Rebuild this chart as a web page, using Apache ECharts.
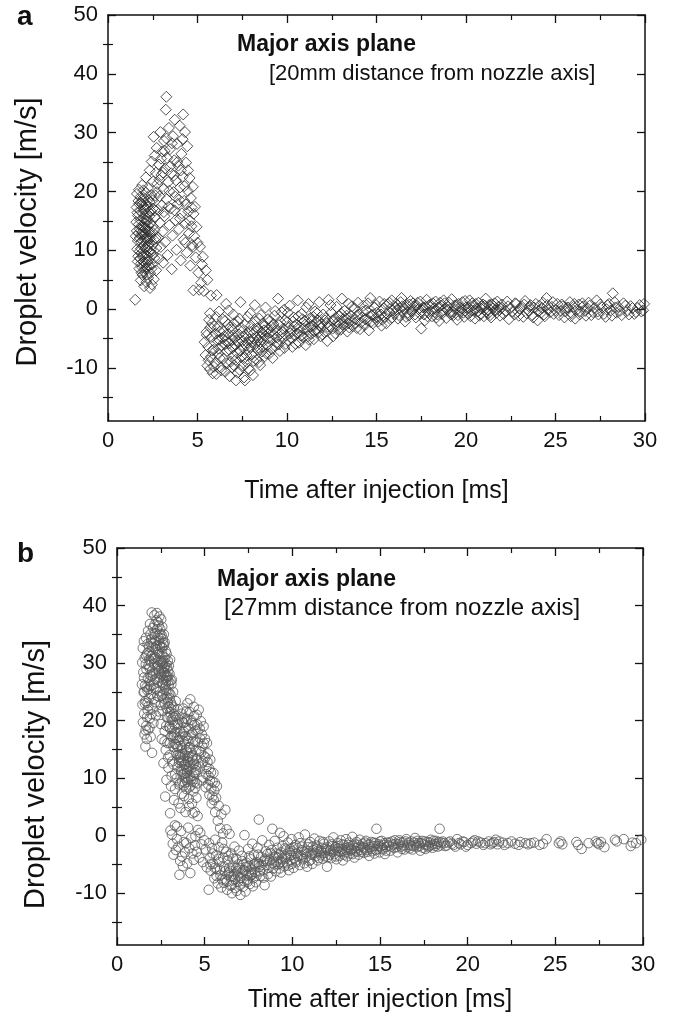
<!DOCTYPE html>
<html>
<head>
<meta charset="utf-8">
<script src="https://cdn.jsdelivr.net/npm/echarts@6/dist/echarts.min.js"></script>
<style>
html,body{margin:0;padding:0;background:#fff;}
#chart{width:673px;height:1014px;}
</style>
</head>
<body>
<div id="chart"></div>
<script>
// ---------- tick labels ----------
const xTicks = [0, 5, 10, 15, 20, 25, 30];
const yMajorTicks = [-10, 0, 10, 20, 30, 40, 50];
const yMinorTicks = [-15, -5, 5, 15, 25, 35, 45];

// ---------- panel (a): 20 mm, diamonds ----------
const aEarly = [[1.52,1.6],[1.55,12.4],[1.58,14.8],[1.6,17.3],[1.62,19.6],[1.63,10.2],[1.66,8.1],[1.68,15.9],[1.7,18.4],[1.71,12.9],[1.73,20.3],[1.75,6.9],[1.76,9.8],[1.78,13.6],[1.8,16.7],[1.81,19.1],[1.83,4.9],[1.85,7.8],[1.86,11.4],[1.88,14.2],[1.9,17.8],[1.91,21.1],[1.93,5.8],[1.94,8.9],[1.96,10.7],[1.97,12.8],[1.99,15.3],[2.0,18.9],[2.02,3.9],[2.03,6.4],[2.05,9.3],[2.06,11.9],[2.08,13.7],[2.09,16.1],[2.11,19.8],[2.12,22.4],[2.14,4.6],[2.15,7.2],[2.17,10.1],[2.18,12.3],[2.2,14.9],[2.21,17.4],[2.23,20.6],[2.24,5.3],[2.26,8.4],[2.27,11.1],[2.29,13.2],[2.3,15.8],[2.32,18.2],[2.33,23.6],[2.35,3.6],[2.36,6.1],[2.38,9.6],[2.39,12.6],[2.41,16.6],[2.42,19.4],[2.44,25.1],[2.45,4.2],[2.47,7.6],[2.48,10.9],[2.5,14.1],[2.51,17.1],[2.53,21.7],[2.55,29.3],[2.56,5.1],[2.58,8.7],[2.6,13.4],[2.61,26.1],[2.63,15.6],[2.65,19.3],[2.67,23.2],[2.69,6.6],[2.7,10.4],[1.84,10.3],[1.92,13.1],[1.95,16.2],[2.01,8.1],[2.04,14.6],[2.07,17.2],[2.1,6.9],[2.13,12.1],[2.16,15.4],[2.19,9.1],[2.22,11.7],[2.25,18.6],[1.87,6.2],[1.98,20.2],[2.28,7.4]];
const aCore = [[1.61,13.3],[1.64,16.4],[1.67,11.6],[1.69,9.0],[1.72,14.4],[1.74,17.9],[1.77,12.1],[1.79,8.6],[1.82,15.1],[1.84,18.1],[1.87,12.7],[1.89,9.6],[1.92,7.1],[1.94,14.0],[1.96,18.3],[1.99,11.5],[2.01,13.9],[2.03,16.9],[2.06,7.9],[2.08,10.4],[2.1,12.9],[2.12,15.0],[2.14,17.9],[2.17,5.9],[2.19,13.6],[2.21,8.0],[2.23,10.7],[2.26,14.2],[2.28,16.5],[2.31,9.9],[2.34,12.0],[2.37,14.7],[2.4,10.2],[2.43,6.9],[2.46,13.1],[2.49,18.5],[2.52,9.3],[2.57,11.8],[2.62,16.8],[2.66,12.1]];
const aPeak = [[2.72,27.4],[2.75,21.3],[2.78,16.9],[2.8,12.2],[2.83,8.6],[2.85,24.6],[2.88,19.2],[2.9,14.7],[2.93,30.1],[2.95,10.6],[2.98,22.8],[3.0,17.6],[3.03,26.8],[3.05,13.2],[3.08,7.9],[3.1,20.4],[3.13,28.6],[3.15,15.8],[3.18,23.9],[3.2,11.4],[3.23,33.9],[3.26,36.1],[3.28,18.7],[3.3,25.7],[3.33,9.2],[3.36,21.6],[3.4,30.8],[3.43,14.3],[3.46,27.2],[3.5,17.1],[3.53,23.1],[3.56,6.8],[3.6,12.5],[3.63,29.4],[3.66,19.9],[3.7,25.3],[3.73,32.2],[3.76,15.1],[3.8,21.9],[3.83,10.1],[3.86,28.1],[3.9,17.9],[3.93,24.4],[3.96,13.6],[4.0,31.2],[4.03,20.7],[4.06,8.3],[4.1,26.4],[4.13,16.3],[4.16,22.5],[4.2,33.1],[4.23,11.8],[4.26,18.4],[4.3,30.1],[4.33,14.6],[4.36,24.9],[4.4,9.6],[4.43,27.7],[4.46,20.1],[4.5,16.6],[4.53,12.9],[4.56,22.3],[4.6,7.4],[4.63,18.9],[4.66,14.1],[4.7,10.9],[4.74,20.8],[4.78,16.2],[4.82,12.4],[4.86,17.4],[4.9,8.8],[4.95,14.0],[2.74,19.9],[2.87,22.0],[2.97,25.6],[3.07,23.2],[3.17,26.9],[3.27,29.0],[3.37,17.4],[3.47,24.3],[3.57,28.2],[3.67,22.7],[3.77,19.1],[3.87,25.0],[3.97,18.6],[4.07,23.6],[4.17,28.9],[4.27,20.9],[4.37,17.8],[4.47,23.6],[4.57,15.1],[4.67,17.3],[3.12,16.5],[3.42,20.1],[3.72,16.8],[4.02,15.4],[4.32,11.3]];
const aTransition = [[4.75,10.6],[4.77,3.2],[5.0,11.3],[5.05,6.2],[5.1,3.3],[5.14,10.6],[5.2,4.5],[5.25,7.6],[5.3,8.9],[5.35,3.1],[5.47,6.6],[5.55,5.0],[5.75,2.3],[6.07,2.4],[5.7,-0.7],[5.8,-2.4]];
const aTrough = [[5.4,-5.6],[5.45,-7.8],[5.5,-3.9],[5.55,-9.6],[5.6,-6.4],[5.65,-1.8],[5.7,-10.2],[5.75,-8.1],[5.8,-4.7],[5.85,-10.9],[5.9,-6.9],[5.95,-2.9],[6.0,-9.1],[6.05,-11.0],[6.1,-5.3],[6.15,-7.6],[6.2,-0.4],[6.25,-3.8],[6.3,-9.9],[6.35,-6.1],[6.4,-1.7],[6.45,-8.4],[6.5,-4.6],[6.55,-10.6],[6.6,0.9],[6.65,-7.1],[6.7,-2.6],[6.75,-5.8],[6.8,-11.4],[6.85,-8.9],[6.9,-3.4],[6.95,-6.6],[7.0,-0.9],[7.05,-9.6],[7.1,-4.9],[7.15,-12.1],[7.2,-7.4],[7.25,-2.1],[7.3,-5.6],[7.35,-10.3],[7.4,1.2],[7.45,-8.1],[7.5,-3.7],[7.55,-6.3],[7.6,-11.6],[7.65,-12.1],[7.7,-4.4],[7.75,-9.0],[7.8,-1.3],[7.85,-6.9],[7.9,-5.1],[7.95,-10.4],[8.0,-2.8],[8.05,-7.7],[8.1,-11.2],[8.15,-4.0],[8.2,0.7],[8.25,-5.9],[8.3,-8.6],[8.35,-3.2],[8.4,-6.5],[8.45,-1.6],[8.5,-9.5],[8.55,-4.6],[8.6,-7.2],[8.65,-2.4],[8.7,-5.4],[8.75,-8.0],[8.8,0.3],[8.85,-3.8],[8.9,-6.1],[8.95,-4.9],[9.0,-7.6],[9.05,-2.0],[9.1,-5.2],[9.15,-3.0],[9.2,-8.3],[9.25,-4.3],[9.3,-1.1],[9.35,-6.3],[9.4,-3.6],[9.45,-5.6],[9.5,1.8],[9.55,-2.7],[9.6,-7.1],[9.65,-4.1],[9.7,-0.5],[9.75,-5.0],[9.8,-3.3],[9.85,-6.6],[9.9,-1.9],[9.95,-4.5],[6.52,-6.0],[6.72,-4.2],[6.92,-5.2],[7.12,-6.1],[7.32,-4.3],[7.52,-5.4],[7.72,-6.2],[7.92,-3.9],[8.12,-5.0],[8.32,-4.8],[8.52,-5.6],[8.72,-3.6],[6.22,-5.2],[6.02,-4.2],[7.02,-7.9],[7.62,-8.3],[5.52,-4.4],[5.62,-8.7],[5.72,-3.1],[5.82,-7.0],[5.92,-9.8],[6.04,-1.3],[6.14,-3.0],[6.24,-8.3],[6.34,-10.4],[6.44,-3.7],[6.54,-2.0],[6.64,-9.2],[6.74,-0.2],[6.84,-3.1],[6.94,-9.9],[7.04,-2.4],[7.14,-8.6],[7.24,-10.8],[7.34,-1.6],[7.44,-3.2],[7.54,-9.6],[7.64,-2.6],[7.74,-7.8],[7.84,-10.1],[7.94,-0.7],[8.04,-5.6],[8.14,-8.8],[8.24,-2.1],[8.34,-6.9],[8.44,-9.0],[8.54,-1.0],[8.64,-6.4],[8.74,-2.9],[8.84,-7.5],[8.94,-1.7],[9.04,-4.0],[9.14,-6.8],[9.24,-2.5],[9.34,-0.3],[9.44,-4.8],[9.54,-6.0],[9.64,-2.2],[9.74,-3.9],[9.84,-0.1],[9.94,-5.9],[6.18,-6.7],[6.38,-4.9],[6.58,-5.4],[6.78,-6.9],[6.98,-4.4],[7.18,-5.3],[7.38,-7.0],[7.58,-4.6],[7.78,-5.7],[7.98,-6.4],[8.18,-3.4],[8.38,-5.3],[8.58,-3.9],[8.78,-4.6],[8.98,-3.3]];
const aRecovery = [[10.0,-2.2],[10.08,-5.3],[10.15,0.6],[10.22,-3.7],[10.3,-6.4],[10.37,-1.4],[10.45,-4.4],[10.52,-2.6],[10.6,1.5],[10.67,-5.7],[10.75,-3.1],[10.82,-0.8],[10.9,-4.8],[10.97,-2.0],[11.05,-6.1],[11.12,-3.4],[11.2,0.9],[11.27,-1.6],[11.35,-4.2],[11.42,-2.8],[11.5,-5.1],[11.57,-0.4],[11.65,-3.6],[11.72,-1.9],[11.8,1.2],[11.87,-4.6],[11.95,-2.5],[12.02,-0.9],[12.1,-3.9],[12.17,-1.5],[12.25,-5.4],[12.32,1.6],[12.4,-2.9],[12.47,-0.6],[12.55,-3.3],[12.62,-1.8],[12.7,-4.1],[12.77,0.4],[12.85,-2.2],[12.92,-1.1],[13.0,-3.5],[13.07,1.8],[13.15,-2.6],[13.22,-0.3],[13.3,-1.6],[13.37,-3.8],[13.45,0.9],[13.52,-2.0],[13.6,-1.2],[13.67,-2.9],[13.75,0.2],[13.82,-1.7],[13.9,-3.2],[13.97,1.1],[14.05,-0.9],[14.12,-2.3],[14.2,-1.4],[14.27,0.6],[14.35,-2.7],[14.42,-0.2],[14.5,-1.9],[14.57,-3.6],[14.65,1.9],[14.72,-1.0],[14.8,-2.4],[14.87,0.3],[14.95,-1.5],[15.02,-0.6],[15.1,-2.1],[15.17,1.3],[15.25,-0.9],[15.32,-1.8],[15.4,0.1],[15.47,-1.3],[15.55,-2.4],[15.62,0.8],[15.7,-0.5],[15.77,-1.7],[15.85,1.5],[15.92,-0.2],[10.12,-3.0],[10.42,-2.9],[10.72,-3.9],[11.02,-2.6],[11.32,-3.0],[11.62,-2.2],[11.92,-3.1],[12.22,-2.4],[12.52,-2.0],[12.82,-2.8],[13.12,-1.8],[13.42,-2.4],[10.27,-4.9],[10.57,-4.1],[10.87,-1.7],[11.17,-4.6],[11.47,-1.3],[11.77,-3.9],[10.05,-0.6],[10.18,-4.1],[10.33,-2.1],[10.48,-5.9],[10.63,-1.2],[10.78,-4.5],[10.93,-3.3],[11.08,0.3],[11.23,-5.2],[11.38,-2.0],[11.53,-3.7],[11.68,-0.7],[11.83,-2.7],[11.98,-4.3],[12.13,-1.9],[12.28,-3.0],[12.43,0.7],[12.58,-4.6],[12.73,-1.4],[12.88,-3.4],[13.03,-0.8],[13.18,-2.9],[13.33,-1.1],[13.48,-3.1],[13.63,0.5],[13.78,-2.4],[13.93,-1.0],[14.08,-3.4],[14.23,-0.4],[14.38,-1.7],[14.53,1.0],[14.68,-2.2],[14.83,-0.9],[14.98,0.7],[15.13,-1.2],[15.28,-2.8],[15.43,0.9],[15.58,-0.8],[15.73,1.1],[15.88,-1.4]];
const aTail = [[16.0,-0.8],[16.1,0.9],[16.2,-1.6],[16.3,0.2],[16.4,1.9],[16.5,-0.4],[16.6,-2.1],[16.7,0.7],[16.8,-1.1],[16.9,1.4],[17.0,-0.2],[17.1,0.5],[17.2,-1.4],[17.3,1.1],[17.4,-0.7],[17.5,-3.3],[17.6,0.3],[17.7,-1.9],[17.8,1.6],[17.9,-0.5],[18.0,0.8],[18.1,-1.2],[18.2,0.1],[18.3,1.3],[18.4,-0.9],[18.5,-2.0],[18.6,0.6],[18.7,-0.3],[18.8,1.0],[18.9,-1.5],[19.0,0.4],[19.1,-0.6],[19.2,1.7],[19.3,-1.0],[19.4,0.0],[19.5,-1.8],[19.6,0.9],[19.7,-0.4],[19.8,1.2],[19.9,-1.3],[20.0,0.3],[20.1,-0.7],[20.2,1.5],[20.3,-0.2],[20.4,0.6],[20.5,-1.6],[20.6,0.2],[20.7,1.1],[20.8,-0.8],[20.9,0.5],[21.0,-1.2],[21.1,1.8],[21.2,-0.1],[21.3,0.7],[21.4,-1.4],[21.5,0.1],[21.6,1.0],[21.7,-0.6],[21.8,0.4],[21.9,-1.1],[22.0,0.8],[22.2,-0.3],[22.3,1.3],[22.4,-1.7],[22.5,0.2],[22.7,-0.9],[22.8,0.9],[22.9,-0.4],[23.1,0.5],[23.2,-1.3],[23.3,1.4],[23.5,-0.2],[23.6,0.7],[23.7,-1.0],[23.8,0.3],[24.0,-1.9],[24.1,0.6],[24.2,-0.6],[24.3,1.1],[24.4,-1.2],[24.5,1.9],[24.6,-0.1],[24.8,0.4],[24.9,-0.8],[25.1,0.9],[25.3,-0.3],[25.4,0.5],[25.5,-1.4],[25.6,0.2],[25.8,1.2],[25.9,-0.7],[26.0,0.4],[26.1,-1.6],[26.3,0.8],[26.4,-0.4],[26.5,1.0],[26.7,-1.1],[26.8,0.1],[26.9,0.6],[27.1,-0.5],[27.3,1.5],[27.4,-0.9],[27.6,0.3],[27.8,-1.3],[27.9,0.7],[28.1,-0.2],[28.2,2.7],[28.3,1.2],[28.4,-0.6],[28.5,0.4],[28.7,-1.0],[28.8,1.0],[29.0,-0.3],[29.2,0.5],[29.4,-0.8],[29.6,0.2],[29.8,-0.4],[29.95,0.9],[16.15,-0.1],[16.45,0.5],[16.75,-0.6],[17.05,1.0],[17.35,0.0],[17.65,-0.9],[17.95,0.6],[18.25,-0.5],[18.55,1.1],[18.85,0.2],[19.15,-0.9],[19.45,0.7],[19.75,0.1],[20.05,-0.5],[20.35,1.0],[20.65,-0.4],[20.95,0.8],[21.25,-0.7],[21.55,0.5],[21.85,-0.2],[16.05,0.4],[16.25,-1.0],[16.35,1.2],[16.55,0.1],[16.65,-1.3],[16.85,0.8],[16.95,-0.4],[17.15,-0.9],[17.25,0.6],[17.45,1.3],[17.55,-0.2],[17.75,0.4],[17.85,-1.2],[18.05,-0.3],[18.15,1.0],[18.35,-1.4],[18.45,0.3],[18.65,-0.8],[18.75,1.5],[18.95,-0.1],[19.05,1.1],[19.25,-0.4],[19.35,0.6],[19.55,-1.0],[19.65,0.3],[19.85,-0.6],[19.95,1.4],[20.15,0.2],[20.25,-1.2],[20.45,-0.3],[20.55,0.9],[20.75,-1.1],[20.85,0.1],[21.05,0.6],[21.15,-0.5],[21.35,-1.0],[21.45,0.8],[21.65,-0.2],[21.75,1.3],[21.95,0.2],[22.1,-0.8],[22.35,0.5],[22.6,-0.4],[22.75,1.0],[22.95,-1.1],[23.0,0.1],[23.25,0.8],[23.4,-0.7],[23.55,0.4],[23.75,-1.4],[23.9,0.9],[24.05,-0.3],[24.25,0.2],[24.35,-0.9],[24.55,0.7],[24.7,-0.5],[24.85,1.2],[25.0,-0.2],[25.2,-1.0],[25.35,0.8],[25.55,-0.4],[25.7,0.3],[25.85,-1.2],[26.05,0.9],[26.2,-0.1],[26.35,-0.9],[26.55,0.5],[26.65,-0.3],[26.85,1.1],[27.0,-1.0],[27.2,0.2],[27.35,-0.4],[27.5,0.8],[27.7,-0.8],[27.85,0.0],[28.0,0.9],[28.15,-1.1],[28.35,0.3],[28.6,-0.3],[28.9,0.6],[29.1,-0.9],[29.3,0.2],[29.5,-0.5],[29.7,0.7],[29.9,-0.2]];

// ---------- panel (b): 27 mm, circles ----------
const bPeak = [[1.42,26.3],[1.44,30.1],[1.45,22.8],[1.47,32.6],[1.48,19.7],[1.5,28.4],[1.52,24.9],[1.53,33.8],[1.55,21.2],[1.57,17.6],[1.58,30.9],[1.6,26.1],[1.62,15.5],[1.63,23.4],[1.65,34.4],[1.67,19.1],[1.68,28.9],[1.7,16.8],[1.72,31.7],[1.73,25.3],[1.75,21.8],[1.77,35.6],[1.78,18.4],[1.8,29.6],[1.82,23.9],[1.83,32.9],[1.85,26.8],[1.87,20.4],[1.88,36.8],[1.9,30.3],[1.92,17.2],[1.93,24.6],[1.95,34.1],[1.97,27.7],[1.98,38.8],[2.0,14.4],[2.02,31.4],[2.03,22.1],[2.05,36.1],[2.07,28.1],[2.08,19.6],[2.1,33.4],[2.12,25.7],[2.13,38.3],[2.15,30.7],[2.17,23.2],[2.18,35.2],[2.2,27.3],[2.22,20.9],[2.23,32.4],[2.25,37.4],[2.27,38.7],[2.28,29.4],[2.3,24.3],[2.32,34.7],[2.33,26.6],[2.35,31.9],[2.37,36.5],[2.38,21.6],[2.4,28.6],[2.42,38.1],[2.43,33.2],[2.45,25.1],[2.47,35.9],[2.48,30.2],[2.5,22.7],[2.52,37.6],[2.53,27.9],[2.55,32.8],[2.57,24.4],[2.58,36.3],[2.6,29.8],[2.62,34.2],[2.63,26.2],[2.65,31.1],[2.67,35.0],[2.7,28.3],[2.72,33.6],[2.75,30.9],[2.78,32.1],[2.8,27.4],[2.83,31.6],[2.86,29.2],[2.9,30.4],[2.93,26.9],[2.96,29.5],[3.0,28.1],[3.03,30.6],[3.06,27.0],[3.1,26.3],[3.13,27.1],[1.86,29.1],[1.94,31.2],[2.01,28.7],[2.06,30.8],[2.11,29.9],[2.16,32.6],[2.21,31.0],[2.26,33.0],[2.31,30.6],[2.36,28.9],[2.41,31.6],[2.46,32.9],[2.51,30.4],[2.56,31.8],[2.61,28.6],[1.76,27.4],[1.81,32.0],[1.91,26.0],[1.54,27.5],[1.59,23.0],[1.64,29.8],[1.69,25.8],[1.74,33.3],[1.79,22.5],[1.84,30.6],[1.89,27.9],[1.96,33.6],[2.04,26.2],[2.09,35.0],[2.14,27.0],[2.19,33.9],[2.24,28.3],[2.29,35.9],[2.34,29.6],[2.39,33.9],[2.44,27.5],[2.49,34.4],[2.54,29.1],[2.59,32.7],[2.64,30.4],[2.68,33.1],[2.73,29.5],[2.77,27.9],[2.82,29.8],[2.87,27.6],[2.92,28.6],[1.56,25.0],[1.66,31.3],[1.71,20.6],[1.81,25.5],[1.91,35.0],[2.04,32.8],[2.14,36.7],[2.24,25.5],[2.34,37.1],[2.44,35.1],[2.54,34.9],[2.64,33.5],[1.63,18.3],[1.74,23.1],[1.86,18.8],[1.97,21.1],[2.09,23.8]];
const bStreak = [[2.42,24.1],[2.5,19.4],[2.55,16.8],[2.6,21.7],[2.65,12.6],[2.7,23.8],[2.72,18.2],[2.75,6.8],[2.78,14.9],[2.8,25.3],[2.82,9.7],[2.85,20.6],[2.88,16.1],[2.9,23.1],[2.93,11.8],[2.95,26.2],[2.98,18.9],[3.0,14.0],[3.02,21.4],[3.03,3.9],[3.05,24.5],[3.08,8.6],[3.1,17.3],[3.12,22.7],[3.15,12.9],[3.18,19.8],[3.2,25.0],[3.22,15.4],[3.25,6.2],[3.27,21.1],[3.3,17.9],[3.32,10.7],[3.35,23.4],[3.38,14.3],[3.4,19.3],[3.42,1.6],[3.45,12.0],[3.47,22.0],[3.5,16.6],[3.52,8.9],[3.55,20.2],[3.58,13.7],[3.6,18.1],[3.62,4.8],[3.65,11.3],[3.68,21.2],[3.7,15.2],[3.72,9.4],[3.75,17.7],[3.78,13.0],[3.8,19.6],[3.82,6.9],[3.85,10.8],[3.88,15.9],[3.9,12.4],[3.92,18.7],[3.95,8.1],[3.98,14.6],[4.0,11.2],[4.02,16.9],[4.05,9.9],[4.08,13.8],[4.1,6.4],[4.12,12.1],[4.15,15.3],[4.18,10.3],[4.2,8.7],[4.23,14.4],[4.25,11.7],[4.28,5.6],[4.3,9.5],[4.33,13.1],[4.36,7.7],[4.4,10.9],[4.43,4.1],[4.46,8.3],[4.5,12.2],[4.53,6.6],[4.56,9.1],[4.6,3.4],[2.61,30.0],[2.69,28.4],[2.81,27.0],[2.88,25.1],[3.01,23.9],[3.09,22.0],[3.21,20.6],[3.28,19.2],[3.41,17.0],[3.49,15.4],[3.61,14.1],[3.69,12.9],[3.81,11.6],[3.89,10.1],[4.01,9.4],[2.66,27.1],[2.74,25.8],[2.86,24.0],[2.94,22.4],[3.06,20.7],[3.14,18.6],[3.26,17.4],[3.34,15.9],[3.46,14.0],[3.54,12.7],[3.66,13.6],[3.74,10.6],[3.86,13.9],[3.94,11.9],[4.06,12.8],[2.58,26.6],[2.63,24.7],[2.68,29.2],[2.73,22.9],[2.78,26.4],[2.83,22.1],[2.88,27.8],[2.93,20.5],[2.98,24.8],[3.03,18.6],[3.08,23.1],[3.13,20.2],[3.18,17.1],[3.23,22.3],[3.28,16.0],[3.33,20.8],[3.38,18.0],[3.43,15.5],[3.48,19.4],[3.53,13.2],[3.58,17.2],[3.63,15.6],[3.68,11.1],[3.73,14.2],[3.78,16.4],[3.83,12.3],[3.88,9.2],[3.93,14.9],[3.98,10.9],[4.03,13.5],[4.08,11.6],[4.13,8.4],[4.18,12.7],[4.23,9.8],[4.28,13.6],[4.33,10.4],[4.38,12.5],[4.43,9.3],[4.48,11.0],[4.55,13.4],[2.71,16.4],[2.91,13.6],[3.11,10.4],[3.31,8.1],[3.51,5.6],[3.71,7.3],[3.91,4.1],[2.81,19.1],[3.01,16.1],[3.21,12.4],[3.41,10.0],[3.61,9.1],[3.81,8.7],[4.11,5.1],[4.31,3.9]];
const bBump = [[3.72,19.8],[3.78,22.1],[3.85,20.4],[3.9,17.3],[3.96,21.6],[4.02,23.0],[4.08,18.6],[4.12,15.4],[4.18,23.7],[4.22,20.1],[4.28,17.8],[4.32,13.9],[4.38,22.4],[4.42,19.2],[4.46,16.3],[4.5,11.4],[4.55,21.0],[4.6,18.1],[4.66,21.9],[4.7,14.7],[4.74,16.9],[4.78,19.9],[4.82,12.6],[4.86,15.6],[4.9,10.1],[4.94,19.0],[4.98,13.8],[5.02,16.8],[5.06,8.4],[5.1,11.9],[5.13,16.1],[5.18,14.3],[5.22,10.4],[5.27,7.1],[5.32,13.2],[5.36,11.0],[5.4,5.6],[5.45,9.4],[5.5,10.9],[5.55,7.8],[5.6,4.1],[5.65,6.6],[5.7,8.6],[5.75,2.6],[5.8,5.2],[5.88,1.3],[5.95,3.7],[6.05,0.4],[6.18,4.5],[6.25,1.1],[3.82,18.0],[3.92,19.8],[4.0,20.3],[4.06,16.5],[4.14,21.5],[4.2,17.5],[4.26,19.6],[4.34,16.4],[4.4,20.8],[4.48,18.3],[4.52,14.9],[4.58,19.3],[4.64,16.2],[4.72,18.6],[4.8,14.5],[4.84,17.6],[4.92,12.9],[4.96,16.0],[5.04,13.6],[5.08,10.7],[5.16,12.8],[5.2,8.9],[5.26,11.6],[5.3,9.6],[5.38,8.2],[5.44,6.8],[5.52,6.2],[5.58,9.2],[4.7,12.0],[4.86,9.6]];
const bLow = [[3.05,0.9],[3.13,0.2],[3.18,-1.4],[3.22,-3.3],[3.3,1.8],[3.36,-2.5],[3.42,-0.6],[3.5,-1.9],[3.56,-6.8],[3.6,-4.4],[3.66,0.8],[3.7,-3.6],[3.76,-5.3],[3.82,-1.1],[3.88,-2.9],[3.95,-1.3],[4.0,-4.8],[4.06,1.4],[4.12,-2.2],[4.18,-6.5],[4.24,-0.4],[4.3,-3.1],[4.37,-4.2],[4.44,-1.7],[4.47,-0.1],[4.55,-2.8],[4.62,1.0],[4.7,-3.8],[4.75,0.5],[4.82,-1.5],[4.9,-4.6],[4.98,-0.8],[5.05,-2.4],[5.12,-5.5],[5.23,-9.4]];
const bTrough = [[5.25,-1.3],[5.3,-3.9],[5.35,-6.1],[5.42,-2.2],[5.48,-4.9],[5.55,-7.4],[5.6,-0.7],[5.65,-3.4],[5.7,-5.8],[5.75,-8.3],[5.8,-2.0],[5.85,-4.6],[5.9,-6.9],[5.95,-9.0],[6.0,-1.2],[6.05,-3.8],[6.09,-8.2],[6.12,-5.5],[6.18,-7.6],[6.22,-2.8],[6.28,-9.4],[6.32,-4.3],[6.38,-6.4],[6.42,0.3],[6.48,-8.7],[6.52,-3.1],[6.56,-10.0],[6.6,-5.2],[6.65,-7.1],[6.7,-1.9],[6.75,-9.1],[6.8,-4.0],[6.85,-6.2],[6.9,-8.0],[6.95,-2.6],[7.0,-5.6],[7.04,-10.3],[7.08,-7.3],[7.12,-3.5],[7.18,-8.9],[7.22,-6.0],[7.27,0.1],[7.33,-9.7],[7.38,-4.7],[7.42,-7.7],[7.48,-2.3],[7.52,-6.6],[7.58,-8.4],[7.62,-4.1],[7.68,-5.9],[7.72,-1.4],[7.78,-7.4],[7.82,-3.3],[7.88,-6.3],[7.92,-8.1],[7.98,-4.6],[8.02,-2.1],[8.09,2.8],[8.12,-5.4],[8.18,-7.0],[8.22,-3.7],[8.28,-0.8],[8.32,-6.0],[8.38,-4.4],[8.42,-8.6],[8.48,-2.7],[6.3,-6.8],[6.5,-7.0],[6.7,-6.7],[6.9,-6.9],[7.1,-6.4],[7.3,-6.1],[7.5,-5.3],[7.7,-6.8],[7.9,-5.2],[8.1,-4.9],[6.4,-5.6],[6.6,-7.8],[6.8,-5.7],[7.0,-7.4],[7.2,-5.0],[7.4,-6.9],[7.6,-7.0],[7.8,-5.0],[5.32,-5.0],[5.45,-3.1],[5.58,-5.6],[5.68,-7.0],[5.78,-4.0],[5.88,-5.9],[5.98,-7.6],[6.08,-2.3],[6.16,-6.2],[6.26,-8.0],[6.36,-3.5],[6.46,-6.1],[6.55,-8.6],[6.64,-4.0],[6.73,-7.6],[6.83,-9.6],[6.93,-5.0],[7.02,-8.6],[7.14,-4.4],[7.24,-7.9],[7.35,-5.4],[7.45,-8.0],[7.55,-3.6],[7.65,-6.4],[7.75,-8.8],[7.85,-4.9],[7.95,-7.0],[8.05,-3.3],[8.15,-6.2],[8.25,-5.1],[8.35,-7.3],[8.45,-4.0]];
const bRecovery = [[8.52,-5.1],[8.58,-3.2],[8.62,-6.7],[8.68,-1.6],[8.72,-4.3],[8.78,-7.1],[8.82,-2.5],[8.86,1.2],[8.9,-5.7],[8.95,-3.8],[9.0,-0.9],[9.05,-6.2],[9.1,-4.5],[9.15,-2.1],[9.2,-5.0],[9.25,-3.3],[9.3,0.5],[9.35,-6.4],[9.4,-4.0],[9.45,-1.8],[9.5,-0.1],[9.55,-5.3],[9.6,-3.6],[9.65,-2.4],[9.7,-4.8],[9.75,-1.2],[9.8,-6.0],[9.85,-3.0],[9.9,-4.2],[9.95,-0.6],[10.0,-2.7],[10.06,-5.6],[10.12,-3.9],[10.18,-1.6],[10.24,-4.6],[10.3,-2.2],[10.36,-0.3],[10.42,-5.1],[10.48,-3.4],[10.54,-1.9],[10.6,-4.1],[10.66,-2.8],[10.72,0.2],[10.78,-3.7],[10.84,-5.4],[10.9,-2.0],[10.96,-4.4],[11.02,-1.1],[11.08,-3.1],[11.14,-4.9],[11.2,-2.5],[11.26,-0.5],[11.32,-3.6],[11.38,-1.7],[11.44,-4.3],[11.5,-2.9],[11.56,-0.9],[11.62,-3.4],[11.68,-2.1],[11.74,-4.0],[11.8,-1.4],[11.86,-3.0],[11.92,-2.3],[11.98,-5.4],[12.04,-3.7],[12.1,-1.0],[12.16,-2.6],[12.22,-3.9],[12.28,-1.8],[12.34,-0.3],[12.4,-3.2],[12.46,-2.0],[12.52,-4.1],[12.58,-1.3],[12.64,-2.7],[12.7,-3.5],[12.76,-0.8],[12.82,-2.3],[12.88,-4.3],[12.94,-1.6],[13.0,-2.9],[13.06,-0.6],[13.12,-3.6],[13.18,-2.0],[13.24,-1.2],[13.3,-3.1],[13.36,-2.4],[13.42,-0.2],[13.48,-1.7],[13.54,-3.8],[13.6,-2.6],[13.66,-1.1],[13.72,-2.1],[13.78,-3.3],[13.84,-0.7],[13.9,-1.9],[13.96,-2.8],[14.02,-1.4],[14.08,-3.0],[14.14,-2.2],[14.2,-0.9],[14.26,-2.5],[14.32,-1.6],[14.38,-3.5],[14.44,-2.0],[14.5,-1.1],[14.56,-2.7],[14.62,-1.8],[14.68,-3.1],[14.74,-1.3],[14.8,1.2],[14.86,-2.3],[14.92,-1.5],[14.98,-2.9],[15.04,-1.9],[15.1,-0.9],[15.16,-2.4],[15.22,-1.6],[15.28,-3.2],[15.34,-2.0],[15.4,-1.2],[9.02,-3.6],[9.32,-4.6],[9.62,-4.0],[9.92,-3.4],[10.22,-3.1],[10.52,-3.8],[10.82,-2.6],[11.12,-3.3],[11.42,-2.7],[11.72,-3.0],[12.02,-2.5],[12.32,-2.8],[12.62,-2.2],[12.92,-2.6],[13.22,-2.3],[13.52,-2.1],[8.55,-4.4],[8.65,-5.6],[8.75,-3.0],[8.85,-4.8],[8.97,-5.0],[9.07,-3.1],[9.17,-3.9],[9.27,-5.7],[9.37,-2.9],[9.47,-4.6],[9.57,-2.2],[9.67,-3.3],[9.77,-5.2],[9.87,-2.3],[9.97,-4.9],[10.08,-2.0],[10.2,-4.3],[10.32,-3.5],[10.44,-1.3],[10.56,-2.5],[10.68,-4.8],[10.8,-3.1],[10.92,-1.5],[11.04,-4.2],[11.16,-1.9],[11.28,-3.0],[11.4,-2.3],[11.52,-3.9],[11.64,-2.7],[11.76,-1.1],[11.88,-3.6],[12.0,-2.0],[12.12,-3.3],[12.24,-1.5],[12.36,-2.4],[12.48,-3.6],[12.6,-1.8],[12.72,-2.8],[12.84,-1.5],[12.96,-3.3],[13.08,-2.5],[13.2,-1.6],[13.32,-2.6],[13.44,-3.2],[13.56,-1.4],[13.68,-2.8],[13.8,-1.6],[13.92,-2.5],[14.04,-2.0],[14.16,-1.2],[14.28,-2.8],[14.4,-1.5],[14.52,-2.3],[14.64,-1.2],[14.76,-2.5],[14.88,-1.8],[15.0,-1.0],[15.12,-2.2],[15.24,-1.3],[15.36,-2.6]];
const bTail = [[15.5,-1.7],[15.6,-2.6],[15.7,-1.0],[15.8,-2.1],[15.9,-1.4],[16.0,-2.9],[16.1,-0.8],[16.2,-1.9],[16.3,-1.2],[16.4,-2.4],[16.5,-0.6],[16.6,-1.6],[16.7,-2.2],[16.8,-1.0],[16.9,-1.8],[17.0,-0.4],[17.1,-2.0],[17.2,-1.3],[17.3,-2.6],[17.4,-0.9],[17.5,-1.5],[17.6,-2.3],[17.7,-1.1],[17.8,-1.8],[17.9,-0.7],[18.0,-2.1],[18.1,-1.4],[18.2,-0.9],[18.3,-1.9],[18.4,1.2],[18.5,-1.2],[18.66,-1.3],[18.8,-1.7],[19.0,-1.0],[19.2,-1.6],[19.4,-0.6],[19.5,-1.3],[19.7,-1.0],[19.9,-1.9],[20.2,-1.3],[20.4,-0.8],[20.6,-1.0],[20.9,-1.6],[21.2,-1.0],[21.4,-1.3],[21.6,-0.7],[21.8,-1.0],[22.1,-1.6],[22.5,-1.0],[22.9,-1.6],[23.3,-1.3],[23.6,-1.3],[24.1,-1.6],[24.5,-0.6],[25.3,-1.0],[25.4,-1.5],[26.2,-1.1],[26.5,-2.3],[26.9,-1.3],[27.3,-1.0],[27.5,-1.5],[27.6,-1.1],[27.8,-2.0],[28.4,-0.7],[28.9,-0.6],[29.3,-1.8],[29.4,-1.2],[29.9,-0.7],[15.55,-1.2],[15.65,-1.9],[15.75,-1.5],[15.85,-0.8],[15.95,-2.0],[16.05,-1.5],[16.15,-1.1],[16.25,-2.3],[16.35,-1.7],[16.45,-1.0],[16.55,-2.0],[16.65,-1.2],[16.75,-1.7],[16.85,-2.4],[16.95,-1.2],[17.05,-1.6],[17.15,-0.9],[17.25,-1.8],[17.35,-1.3],[17.45,-2.1],[17.55,-1.0],[17.65,-1.6],[17.75,-2.0],[17.85,-1.2],[17.95,-1.6],[18.05,-0.9],[18.15,-1.8],[18.25,-1.4],[18.35,-1.1],[18.45,-1.7],[18.58,-1.0],[18.72,-1.8],[18.9,-1.2],[19.1,-1.4],[19.3,-1.9],[19.6,-1.5],[19.8,-1.1],[20.0,-1.6],[20.3,-1.0],[20.5,-1.4],[20.75,-1.2],[21.0,-1.3],[21.3,-1.5],[21.5,-1.1],[21.7,-1.5],[22.0,-1.2],[22.3,-1.3],[22.7,-1.4],[23.0,-1.1],[23.45,-1.5],[23.8,-1.2],[24.3,-1.4],[25.2,-1.3],[26.3,-1.6],[27.4,-1.3],[28.5,-1.0],[29.6,-1.3]];

const aData = [].concat(aEarly, aCore, aPeak, aTransition, aTrough, aRecovery, aTail);
const bData = [].concat(bPeak, bStreak, bBump, bLow, bTrough, bRecovery, bTail);

const FONT = '"Liberation Sans", Arial, Helvetica, sans-serif';
const INK = '#111';

function xAxes(gi, gap) {
  const base = {
    gridIndex: gi, type: 'value', min: 0, max: 30, interval: 5,
    splitLine: {show: false},
    axisLine: {show: true, onZero: false, lineStyle: {color: INK, width: 1.5}},
    axisTick: {show: true, inside: true, length: 8, lineStyle: {color: INK, width: 1.3}},
    minorTick: {show: true, splitNumber: 2, length: 5, lineStyle: {color: INK, width: 1.2}}
  };
  const bottom = Object.assign({}, base, {
    position: 'bottom',
    axisLabel: {show: true, color: INK, fontFamily: FONT, fontSize: 22, margin: 9,
      customValues: xTicks},
    name: 'Time after injection [ms]', nameLocation: 'middle',
    nameGap: gap,
    nameTextStyle: {color: INK, fontFamily: FONT, fontSize: 25}
  });
  const top = Object.assign({}, base, {position: 'top', axisLabel: {show: false}});
  return [bottom, top];
}

function yAxes(gi, gap, shift) {
  const common = {
    gridIndex: gi, type: 'value', min: -19, max: 50,
    splitLine: {show: false}
  };
  const leftMajor = Object.assign({}, common, {
    position: 'left',
    axisLine: {show: true, onZero: false, lineStyle: {color: INK, width: 1.5}},
    axisTick: {show: true, inside: true, length: 8, customValues: yMajorTicks, lineStyle: {color: INK, width: 1.3}},
    axisLabel: {show: true, color: INK, fontFamily: FONT, fontSize: 22, margin: 10, customValues: yMajorTicks},
    name: 'Droplet velocity [m/s]', nameLocation: 'middle', nameGap: gap,
    nameTextStyle: {color: INK, fontFamily: FONT, fontSize: 29, padding: [0, shift, 0, 0]}
  });
  const leftMinor = Object.assign({}, common, {
    position: 'left',
    axisLine: {show: false},
    axisTick: {show: true, inside: true, length: 5, customValues: yMinorTicks, lineStyle: {color: INK, width: 1.2}},
    axisLabel: {show: false}
  });
  const rightMajor = Object.assign({}, common, {
    position: 'right',
    axisLine: {show: true, onZero: false, lineStyle: {color: INK, width: 1.5}},
    axisTick: {show: true, inside: true, length: 8, customValues: yMajorTicks, lineStyle: {color: INK, width: 1.3}},
    axisLabel: {show: false}
  });
  const rightMinor = Object.assign({}, common, {
    position: 'right',
    axisLine: {show: false},
    axisTick: {show: true, inside: true, length: 5, customValues: yMinorTicks, lineStyle: {color: INK, width: 1.2}},
    axisLabel: {show: false}
  });
  return [leftMajor, leftMinor, rightMajor, rightMinor];
}

const chart = echarts.init(document.getElementById('chart'), null, {renderer: 'canvas'});
chart.setOption({
  animation: false,
  backgroundColor: '#fff',
  textStyle: {fontFamily: FONT},
  title: [
    {text: 'a', left: 17, top: 3, textStyle: {fontFamily: FONT, fontSize: 28, fontWeight: 'bold', color: INK}},
    {text: 'Major axis plane', left: 237, top: 33, textStyle: {fontFamily: FONT, fontSize: 23, fontWeight: 'bold', color: INK}},
    {text: '[20mm distance from nozzle axis]', left: 269, top: 63, textStyle: {fontFamily: FONT, fontSize: 22, fontWeight: 'normal', color: INK}},
    {text: 'b', left: 17, top: 540, textStyle: {fontFamily: FONT, fontSize: 28, fontWeight: 'bold', color: INK}},
    {text: 'Major axis plane', left: 217, top: 568, textStyle: {fontFamily: FONT, fontSize: 23, fontWeight: 'bold', color: INK}},
    {text: '[27mm distance from nozzle axis]', left: 224, top: 596, textStyle: {fontFamily: FONT, fontSize: 24, fontWeight: 'normal', color: INK}}
  ].map(t => Object.assign({padding: 0}, t)),
  grid: [
    {left: 108, top: 15, width: 537, height: 406},
    {left: 117, top: 548, width: 526, height: 398}
  ],
  xAxis: [].concat(xAxes(0, 58), xAxes(1, 43)),
  yAxis: [].concat(yAxes(0, 66, 28), yAxes(1, 67, 56)),
  series: [
    {
      type: 'scatter', xAxisIndex: 0, yAxisIndex: 0, data: aData,
      symbol: 'diamond', symbolSize: [11, 11], silent: true,
      itemStyle: {color: 'rgba(0,0,0,0)', borderColor: '#2b2b2b', borderWidth: 1}
    },
    {
      type: 'scatter', xAxisIndex: 2, yAxisIndex: 4, data: bData,
      symbol: 'circle', symbolSize: 9.5, silent: true,
      itemStyle: {color: 'rgba(0,0,0,0)', borderColor: '#595959', borderWidth: 1}
    }
  ]
});
</script>
</body>
</html>
